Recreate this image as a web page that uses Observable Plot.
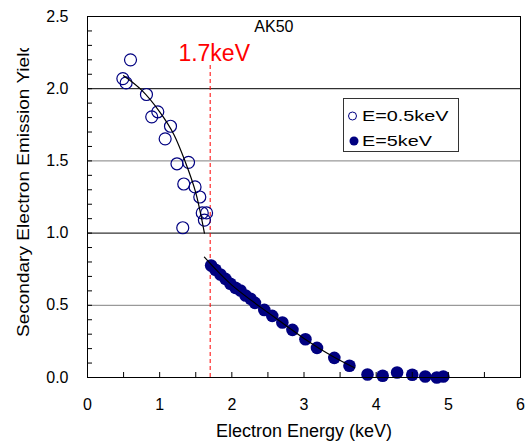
<!DOCTYPE html>
<html>
<head>
<meta charset="utf-8">
<script src="https://cdn.jsdelivr.net/npm/d3@7"></script>
<script src="https://cdn.jsdelivr.net/npm/@observablehq/plot@0.6"></script>
<style>
  html, body { margin: 0; padding: 0; background: #fff; }
  #chart { width: 528px; height: 445px; }
</style>
</head>
<body>
<div id="chart"></div>
<script>
// Secondary electron yield of AK50 versus primary electron energy
const openX  = [0.49, 0.535, 0.596, 0.817, 0.89, 0.974, 1.076, 1.15, 1.24, 1.334, 1.40, 1.49, 1.556, 1.59, 1.65, 1.62, 1.32];
const openY  = [2.07, 2.04, 2.20, 1.96, 1.805, 1.84, 1.653, 1.74, 1.48, 1.34, 1.49, 1.32, 1.25, 1.14, 1.14, 1.09, 1.037];

const filledX = [1.713, 1.773, 1.842, 1.911, 1.98, 2.05, 2.12, 2.19, 2.26, 2.32, 2.45, 2.56, 2.70, 2.84, 3.02, 3.18, 3.42, 3.63, 3.88, 4.09, 4.29, 4.50, 4.68, 4.84, 4.93];
const filledY = [0.776, 0.746, 0.713, 0.683, 0.649, 0.621, 0.602, 0.568, 0.545, 0.517, 0.468, 0.427, 0.381, 0.33, 0.265, 0.205, 0.136, 0.081, 0.021, 0.012, 0.035, 0.019, 0.007, 0.0, 0.007];

// fitted trend lines
const fitLowX = [0.50, 0.75, 1.00, 1.20, 1.35, 1.50, 1.62];
const fitLowY = [2.09, 1.99, 1.84, 1.68, 1.50, 1.28, 1.00];
const fitHighX = [1.62, 2.00, 2.50, 3.00, 3.40, 3.70];
const fitHighY = [0.833, 0.64, 0.45, 0.27, 0.145, 0.067];

// crossover energy marker
const crossover = [1.7];
const crossoverLabel = ["1.7keV"];
const sampleName = ["AK50"];

const seriesNames = ["E=0.5keV", "E=5keV"];

// axes
const xTickLabels = [0, 1, 2, 3, 4, 5, 6];
const xTickMarks = d3.range(0, 13).map(i => i / 2);
const yTickLabels = [0, 0.5, 1.0, 1.5, 2.0, 2.5];
const yTickMarks = d3.range(0, 26).map(i => i / 10);
const gridDark = [1.0, 2.0];
const gridLight = [0.5, 1.5];
const xTitle = ["Electron Energy (keV)"];
const yTitle = "Secondary Electron Emission Yield";

const navy = "#000080";
const toPts = (xs, ys) => xs.map((x, i) => ({x, y: ys[i]}));
const openPts = toPts(openX, openY);
const filledPts = toPts(filledX, filledY);
const fitLow = toPts(fitLowX, fitLowY);
const fitHigh = toPts(fitHighX, fitHighY);

const svg = Plot.plot({
  width: 528,
  height: 445,
  marginLeft: 87,
  marginRight: 8,
  marginTop: 16,
  marginBottom: 68,
  style: {fontFamily: "'Liberation Sans', Arial, sans-serif", background: "#fff", color: "#000"},
  x: {domain: [0, 6]},
  y: {domain: [0, 2.5]},
  marks: [
    Plot.ruleY(gridLight, {stroke: "#808080", strokeWidth: 1}),
    Plot.ruleY(gridDark, {stroke: "#000", strokeWidth: 1}),
    Plot.ruleX(crossover, {y1: 0, y2: 2.175, stroke: "#ff0000", strokeWidth: 1, strokeDasharray: "4,3"}),
    Plot.dot(openPts, {x: "x", y: "y", r: 6, fill: "none", stroke: navy, strokeWidth: 1.2}),
    Plot.dot(filledPts, {x: "x", y: "y", r: 6.3, fill: navy, stroke: "none"}),
    Plot.line(fitLow, {x: "x", y: "y", curve: "natural", stroke: "#000", strokeWidth: 1.2}),
    Plot.line(fitHigh, {x: "x", y: "y", curve: "natural", stroke: "#000", strokeWidth: 1.2}),
    Plot.frame({stroke: "#000", strokeWidth: 1}),
    // inward tick marks
    Plot.axisY({ticks: yTickMarks, tickSize: 5, dx: 5, tickFormat: () => "", label: null, stroke: "#000"}),
    Plot.axisX({ticks: xTickMarks, tickSize: 5, dy: -5, tickFormat: () => "", label: null, stroke: "#000"}),
    // tick labels
    Plot.axisY({ticks: yTickLabels, tickSize: 0, tickPadding: 19, tickFormat: d3.format(".1f"), fontSize: 16, label: null, ariaLabel: "ylab"}),
    Plot.axisX({ticks: xTickLabels, tickSize: 0, tickPadding: 21, tickFormat: d3.format("d"), fontSize: 16, label: null, ariaLabel: "xlab"}),
    Plot.text(xTitle, {frameAnchor: "bottom", dy: 59, lineAnchor: "bottom", fontSize: 18, fill: "#000"}),
    Plot.text(crossoverLabel, {x: crossover, y: [2.195], dx: 4, lineAnchor: "bottom", fontSize: 23, fill: "#ff0000"}),
    Plot.text(sampleName, {x: [2.583], y: [2.391], lineAnchor: "bottom", fontSize: 16, fill: "#000", ariaLabel: "sample"})
  ]
});

document.getElementById("chart").appendChild(svg);

// horizontally widen a set of text nodes about their own anchor
function widen(sel, s) {
  sel.each(function () {
    const t = d3.select(this);
    const x = +t.attr("x") || 0, y = +t.attr("y") || 0;
    const tr = t.attr("transform") || "";
    t.attr("x", null).attr("y", null)
      .attr("transform", `${tr} translate(${x},${y}) scale(${s},1)`);
  });
}
const root = d3.select(svg);
widen(root.selectAll('g[aria-label="ylab"] text'), 1.2);
widen(root.selectAll('g[aria-label="xlab"] text'), 1.2);
widen(root.selectAll('g[aria-label="sample"] text'), 1.19);

// rotated y title, clipped at the top like the source layout
root.append("defs").append("clipPath").attr("id", "ytitle-clip")
  .append("rect").attr("x", 0).attr("y", 48).attr("width", 40).attr("height", 397);
root.append("g").attr("clip-path", "url(#ytitle-clip)")
  .append("text")
  .attr("transform", "translate(29,337) rotate(-90) scale(1.12,1)")
  .attr("font-size", 17)
  .attr("fill", "#000")
  .attr("text-anchor", "start")
  .text(yTitle);

// legend box
const lg = root.append("g").attr("font-size", 15).attr("fill", "#000").attr("text-anchor", "start");
lg.append("rect").attr("x", 343.5).attr("y", 98.5).attr("width", 115).attr("height", 53)
  .attr("fill", "#fff").attr("stroke", "#333").attr("stroke-width", 1);
lg.append("circle").attr("cx", 352.5).attr("cy", 116).attr("r", 4)
  .attr("fill", "none").attr("stroke", navy).attr("stroke-width", 1);
lg.append("circle").attr("cx", 354).attr("cy", 141).attr("r", 4.5).attr("fill", navy);
lg.selectAll("text.lt").data(seriesNames).join("text")
  .attr("class", "lt")
  .attr("text-anchor", "start")
  .attr("transform", (d, i) => `translate(362,${121 + i * 25}) scale(1.32,1)`)
  .text(d => d);
</script>
</body>
</html>
